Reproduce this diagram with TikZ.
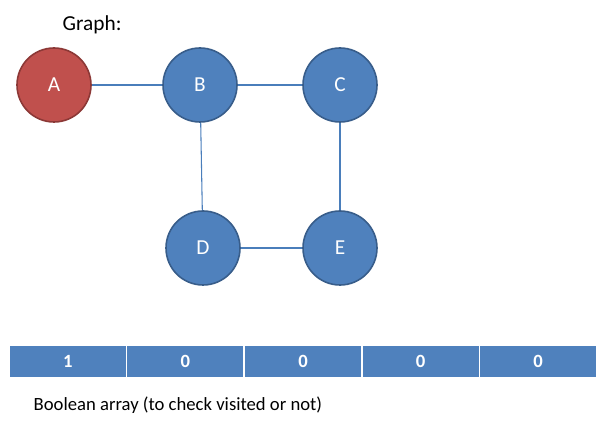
\documentclass[tikz,border=0pt]{standalone}
\usepackage{fontspec}
\setmainfont{Carlito}
\usepackage{tikz}
\usetikzlibrary{positioning}
\definecolor{nodeblue}{HTML}{4F81BD}
\definecolor{nodeborder}{HTML}{385D8A}
\definecolor{nodered}{HTML}{C0504D}
\definecolor{redborder}{HTML}{8C3836}
\definecolor{edgeblue}{HTML}{4A7EBB}
\tikzset{
  vertex/.style={circle, fill=nodeblue, draw=nodeborder, line width=1.2pt,
    minimum size=55.5pt, inner sep=0pt, text=white, font=\fontsize{16}{19}\selectfont},
  visited/.style={vertex, fill=nodered, draw=redborder},
  edge/.style={draw=edgeblue, line width=0.8pt},
  cell/.style={rectangle, fill=nodeblue, draw=white, line width=1.2pt,
    minimum width=88.2pt, minimum height=25pt, inner sep=0pt, text=white,
    font=\fontsize{14}{17}\selectfont\bfseries},
  label text/.style={anchor=west, font=\fontsize{14}{17}\selectfont}
}
\begin{document}
\begin{tikzpicture}[x=0.75pt, y=-0.75pt]
            \useasboundingbox (0,0) rectangle (609,423);
            \node[label text, font=\fontsize{16}{19}\selectfont] (title) at (58,25) {Graph:};
            \node[visited] (A) at (54,85) {A};
            \node[vertex] (B) at (200,85) {B};
            \node[vertex] (C) at (340,85) {C};
            \node[vertex] (D) at (203,248) {D};
            \node[vertex] (E) at (340,248) {E};
            \draw[edge] (A)--(B);
            \draw[edge] (B)--(C);
            \draw[edge] (B)--(D);
            \draw[edge] (C)--(E);
            \draw[edge] (D)--(E);
            % visited array
            \foreach \v [count=\i] in {1,0,0,0,0} {
                \node[cell] (cell\i) at ({9+117.6*(\i-0.5)},361.5) {\v};
            }
            \node[label text] (caption) at (29,405) {Boolean array (to check visited or not)};
        \end{tikzpicture}
\end{document}
